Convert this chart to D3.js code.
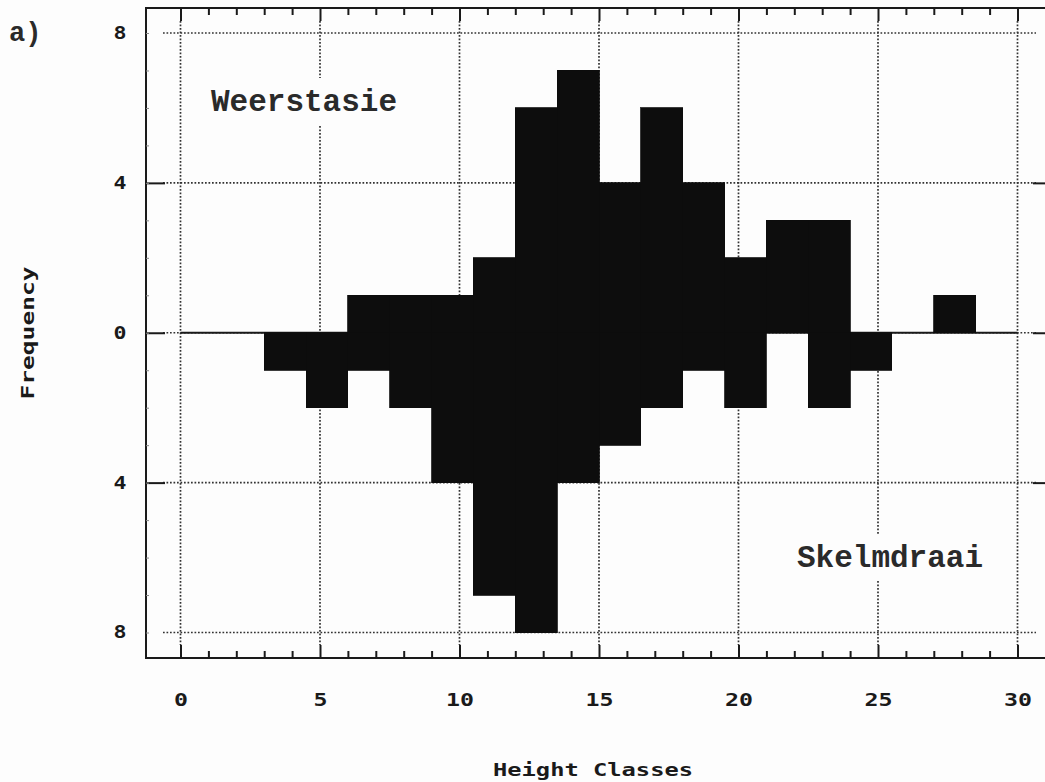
<!DOCTYPE html>
<html>
<head>
<meta charset="utf-8">
<script src="https://cdn.jsdelivr.net/npm/d3@7"></script>
<style>
  html, body { margin: 0; padding: 0; background: #fdfdfd; }
  svg { display: block; }
</style>
</head>
<body>
<svg id="chart" width="1045" height="782"></svg>
<script>
// ---- data ----
const binStarts = [3, 4.5, 6, 7.5, 9, 10.5, 12, 13.5, 15, 16.5, 18, 19.5, 21, 22.5, 24, 25.5, 27];
const binWidth = 1.5;
const weerstasie = [0, 0, 1, 1, 1, 2, 6, 7, 4, 6, 4, 2, 3, 3, 0, 0, 1];   // plotted upward
const skelmdraai = [1, 2, 1, 2, 4, 7, 8, 4, 3, 2, 1, 2, 0, 2, 1, 0, 0];   // plotted downward
const xMajorTicks = [0, 5, 10, 15, 20, 25, 30];
const xMinorTicks = d3.range(0, 31, 1).filter(v => v % 5 !== 0);
const yLabelTicks = [8, 4, 0, -4, -8];
const ySolidTicks = [4, 0, -4];
const yMinorTicks = d3.range(-8, 9, 1);
const topLabel = "Weerstasie";
const bottomLabel = "Skelmdraai";
const xTitle = "Height Classes";
const yTitle = "Frequency";
const panelLabel = "a)";

// ---- layout ----
const svg = d3.select("#chart");
const frame = { left: 146, top: 8, right: 1052, bottom: 658 };
const x = d3.scaleLinear().domain([0, 30]).range([180.5, 1017.5]);
const y = d3.scaleLinear().domain([-8, 8]).range([632.5, 33]);

const ink = "#1a1a1a";
const gridColor = "#333";
const labelFont = "'DejaVu Sans Mono', monospace";

// gridlines (dotted)
const grid = svg.append("g");
grid.selectAll("line.hg").data(yLabelTicks).join("line")
  .attr("x1", 163).attr("x2", 1036)
  .attr("y1", d => y(d)).attr("y2", d => y(d))
  .attr("stroke", gridColor).attr("stroke-width", 1.7)
  .attr("stroke-dasharray", "1.7,1.8");
grid.selectAll("line.vg").data(xMajorTicks).join("line")
  .attr("x1", d => x(d)).attr("x2", d => x(d))
  .attr("y1", 21).attr("y2", 645)
  .attr("stroke", gridColor).attr("stroke-width", 1.7)
  .attr("stroke-dasharray", "1.7,1.8");

// zero line (solid inside data range)
svg.append("line")
  .attr("x1", x(0)).attr("x2", x(30))
  .attr("y1", y(0)).attr("y2", y(0))
  .attr("stroke", ink).attr("stroke-width", 2);

// bars
const bars = svg.append("g").attr("shape-rendering", "crispEdges");
const topData = binStarts.map((s, i) => ({ s, v: weerstasie[i] })).filter(d => d.v > 0);
const botData = binStarts.map((s, i) => ({ s, v: skelmdraai[i] })).filter(d => d.v > 0);
bars.selectAll("rect.top").data(topData).join("rect")
  .attr("x", d => x(d.s)).attr("width", d => x(d.s + binWidth) - x(d.s))
  .attr("y", d => y(d.v)).attr("height", d => y(0) - y(d.v))
  .attr("fill", "#0d0d0d").attr("stroke", "#0d0d0d").attr("stroke-width", 0.8);
bars.selectAll("rect.bot").data(botData).join("rect")
  .attr("x", d => x(d.s)).attr("width", d => x(d.s + binWidth) - x(d.s))
  .attr("y", y(0)).attr("height", d => y(-d.v) - y(0))
  .attr("fill", "#0d0d0d").attr("stroke", "#0d0d0d").attr("stroke-width", 0.8);

// frame
svg.append("rect")
  .attr("x", frame.left).attr("y", frame.top)
  .attr("width", frame.right - frame.left).attr("height", frame.bottom - frame.top)
  .attr("fill", "none").attr("stroke", ink).attr("stroke-width", 2);

// x axis ticks: bottom and top, via d3 axes
function styleAxis(g) {
  g.select(".domain").remove();
  g.selectAll(".tick line").attr("stroke", ink).attr("stroke-width", 2);
}
svg.append("g").attr("transform", `translate(0,${frame.bottom})`)
  .call(d3.axisBottom(x).tickValues(xMajorTicks).tickSize(-13).tickFormat(""))
  .call(styleAxis);
svg.append("g").attr("transform", `translate(0,${frame.bottom})`)
  .call(d3.axisBottom(x).tickValues(xMinorTicks).tickSize(-7).tickFormat(""))
  .call(styleAxis);
svg.append("g").attr("transform", `translate(0,${frame.top})`)
  .call(d3.axisTop(x).tickValues(xMajorTicks).tickSize(-13).tickFormat(""))
  .call(styleAxis);
svg.append("g").attr("transform", `translate(0,${frame.top})`)
  .call(d3.axisTop(x).tickValues(xMinorTicks).tickSize(-7).tickFormat(""))
  .call(styleAxis);

// x tick labels
const xLab = svg.append("g").attr("transform", `translate(0,${frame.bottom})`)
  .call(d3.axisBottom(x).tickValues(xMajorTicks).tickSize(0).tickPadding(36).tickFormat(d3.format("d")));
xLab.select(".domain").remove();
xLab.selectAll("text")
  .attr("font-family", labelFont).attr("font-weight", "bold").attr("font-size", 17)
  .attr("fill", ink)
  .attr("textLength", d => String(d).length * 14)
  .attr("lengthAdjust", "spacingAndGlyphs");

// y axis ticks (left and right)
svg.append("g").attr("transform", `translate(${frame.left},0)`)
  .call(d3.axisLeft(y).tickValues(ySolidTicks).tickSize(-19).tickFormat(""))
  .call(styleAxis);
svg.append("g").attr("transform", `translate(${frame.left},0)`)
  .call(d3.axisLeft(y).tickValues(yMinorTicks).tickSize(-3).tickFormat(""))
  .call(g => { g.select(".domain").remove(); g.selectAll(".tick line").attr("stroke", "#888").attr("stroke-width", 1); });
svg.append("g").attr("transform", `translate(${frame.right},0)`)
  .call(d3.axisRight(y).tickValues(ySolidTicks).tickSize(-19).tickFormat(""))
  .call(styleAxis);

// y tick labels
const yLab = svg.append("g").attr("transform", `translate(${frame.left},0)`)
  .call(d3.axisLeft(y).tickValues(yLabelTicks).tickSize(0).tickPadding(26).tickFormat(d => String(Math.abs(d))));
yLab.select(".domain").remove();
yLab.selectAll("text")
  .attr("text-anchor", "middle")
  .attr("font-family", labelFont).attr("font-weight", "bold").attr("font-size", 17)
  .attr("fill", ink)
  .attr("textLength", 13)
  .attr("lengthAdjust", "spacingAndGlyphs");

// in-plot series labels with white backing (they interrupt the gridlines)
function seriesLabel(text, x0, baseline) {
  const g = svg.append("g");
  const t = g.append("text")
    .attr("x", x0).attr("y", baseline)
    .attr("font-family", "'Liberation Mono', 'Courier New', monospace")
    .attr("font-weight", "bold").attr("font-size", 31)
    .attr("fill", "#2a2a2a")
    .text(text);
  const bb = t.node().getBBox();
  g.insert("rect", "text")
    .attr("x", bb.x - 6).attr("y", baseline - 33)
    .attr("width", bb.width + 12).attr("height", 47)
    .attr("fill", "#fdfdfd");
}
seriesLabel(topLabel, 211, 111);
seriesLabel(bottomLabel, 797, 567);

// axis titles
svg.append("text")
  .attr("x", 593).attr("y", 776)
  .attr("text-anchor", "middle")
  .attr("font-family", labelFont).attr("font-weight", "bold").attr("font-size", 17)
  .attr("fill", ink)
  .attr("textLength", 200).attr("lengthAdjust", "spacingAndGlyphs")
  .text(xTitle);
svg.append("text")
  .attr("transform", "translate(34,333) rotate(-90)")
  .attr("text-anchor", "middle")
  .attr("font-family", labelFont).attr("font-weight", "bold").attr("font-size", 17)
  .attr("fill", ink)
  .attr("textLength", 133).attr("lengthAdjust", "spacingAndGlyphs")
  .text(yTitle);

// panel label
svg.append("text")
  .attr("x", 9).attr("y", 41)
  .attr("font-family", "'Liberation Mono', 'Courier New', monospace")
  .attr("font-weight", "bold").attr("font-size", 27)
  .attr("fill", "#2a2a2a")
  .text(panelLabel);
</script>
</body>
</html>
